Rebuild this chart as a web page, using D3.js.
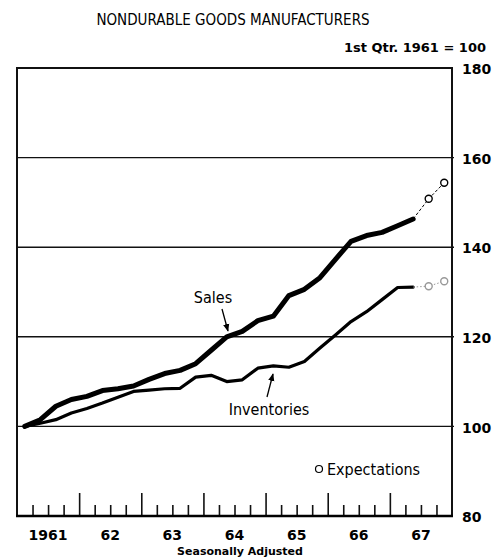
<!DOCTYPE html>
<html>
<head>
<meta charset="utf-8">
<script src="https://cdn.jsdelivr.net/npm/d3@7"></script>
<style>
  body { margin: 0; background: #fff; }
  svg { display: block; font-family: "Liberation Sans Narrow", "DejaVu Sans Condensed", "Liberation Sans", sans-serif; }
  .bold { font-family: "DejaVu Sans", "Liberation Sans", sans-serif; font-weight: bold; }
</style>
</head>
<body>
<svg width="499" height="558"></svg>
<script>
// quarterly data, 1st Qtr 1961 = 100
var years = ["1961", "62", "63", "64", "65", "66", "67"];
var yTicks = [80, 100, 120, 140, 160, 180];
var sales = [100, 101.5, 104.5, 106, 106.7, 108, 108.4, 109, 110.5, 111.8, 112.5, 114,
  117, 120, 121.2, 123.6, 124.6, 129.2, 130.6, 133.2, 137.3, 141.3, 142.6, 143.3, 144.8, 146.3];
var inventories = [100, 100.7, 101.5, 103, 104, 105.2, 106.5, 107.8, 108.1, 108.4, 108.5, 111,
  111.4, 110, 110.4, 113, 113.5, 113.2, 114.5, 117.5, 120.4, 123.4, 125.6, 128.3, 131, 131.1];
var salesExpect = [146.3, 150.8, 154.4];
var invExpect = [131.1, 131.3, 132.4];

var svg = d3.select("svg"),
  width = +svg.attr("width"),
  height = +svg.attr("height");

var plotLeft = 17, plotRight = 452, plotTop = 68, plotBottom = 516;

// x in years, quarter midpoints
var x = d3.scaleLinear().domain([1961, 1968]).range([plotLeft, plotRight]);
var y = d3.scaleLinear().domain([80, 180]).range([plotBottom, plotTop]);
var qx = function (i) { return x(1961 + 0.125 + i * 0.25); };

// 标题
svg.append("text")
  .attr("x", 233).attr("y", 25)
  .attr("text-anchor", "middle")
  .style("font-size", "15px")
  .text("NONDURABLE GOODS MANUFACTURERS");

svg.append("text")
  .attr("class", "bold")
  .attr("x", 486).attr("y", 52)
  .attr("text-anchor", "end")
  .style("font-size", "13px")
  .text("1st Qtr. 1961 = 100");

// gridlines
svg.append("g")
  .selectAll("line")
  .data([100, 120, 140, 160])
  .enter().append("line")
  .attr("x1", plotLeft).attr("x2", plotRight + 2)
  .attr("y1", d => y(d)).attr("y2", d => y(d))
  .attr("stroke", "#111").attr("stroke-width", 1.4);

// frame
svg.append("path")
  .attr("d", "M" + plotLeft + "," + plotBottom + "V" + plotTop + "H" + plotRight + "V" + plotBottom)
  .attr("fill", "none").attr("stroke", "#111").attr("stroke-width", 2);

// right axis labels
var yAxis = d3.axisRight(y).tickValues(yTicks).tickSize(0).tickPadding(10);
svg.append("g")
  .attr("transform", "translate(" + plotRight + ",0)")
  .call(yAxis)
  .call(g => g.select(".domain").remove())
  .selectAll("text")
  .attr("class", "bold")
  .style("font-size", "14px")
  .attr("dy", "0.4em");

// bottom axis quarter ticks
var xAxisQ = d3.axisTop(x)
  .tickValues(d3.range(1, 28).map(i => 1961 + i * 0.25).filter(d => d % 1 !== 0))
  .tickSize(11).tickFormat("");
svg.append("g")
  .attr("transform", "translate(0," + plotBottom + ")")
  .call(xAxisQ)
  .call(g => g.select(".domain").remove())
  .selectAll("line").attr("stroke", "#111").attr("stroke-width", 1.6);

var xAxisY = d3.axisTop(x)
  .tickValues(d3.range(1962, 1968))
  .tickSize(23).tickFormat("");
svg.append("g")
  .attr("transform", "translate(0," + plotBottom + ")")
  .call(xAxisY)
  .call(g => g.select(".domain").remove())
  .selectAll("line").attr("stroke", "#111").attr("stroke-width", 1.6);

// baseline at 80
svg.append("line")
  .attr("x1", plotLeft - 1).attr("x2", plotRight + 1)
  .attr("y1", y(80)).attr("y2", y(80))
  .attr("stroke", "#000").attr("stroke-width", 2.5);

// year labels
svg.append("g")
  .selectAll("text")
  .data(years)
  .enter().append("text")
  .attr("class", "bold")
  .attr("x", (d, i) => x(1961.5 + i))
  .attr("y", 540)
  .attr("text-anchor", "middle")
  .style("font-size", "14px")
  .text(d => d);

svg.append("text")
  .attr("class", "bold")
  .attr("x", 240).attr("y", 555)
  .attr("text-anchor", "middle")
  .style("font-size", "11px")
  .text("Seasonally Adjusted");

// lines
var line = d3.line()
  .x((d, i) => qx(i))
  .y(d => y(d));

svg.append("path")
  .datum(inventories)
  .attr("d", line)
  .attr("fill", "none").attr("stroke", "#000")
  .attr("stroke-width", 3.2).attr("stroke-linejoin", "round").attr("stroke-linecap", "round");

svg.append("path")
  .datum(sales)
  .attr("d", line)
  .attr("fill", "none").attr("stroke", "#000")
  .attr("stroke-width", 5).attr("stroke-linejoin", "round").attr("stroke-linecap", "round");

// expectations (last actual + two quarters)
var n = sales.length - 1;
var expLine = d3.line()
  .x((d, i) => qx(n + i))
  .y(d => y(d));

function drawExpect(vals, color, dash) {
  svg.append("path")
    .datum(vals)
    .attr("d", expLine)
    .attr("fill", "none").attr("stroke", color)
    .attr("stroke-width", 1).attr("stroke-dasharray", dash);
  svg.append("g")
    .selectAll("circle")
    .data(vals.slice(1))
    .enter().append("circle")
    .attr("cx", (d, i) => qx(n + i + 1))
    .attr("cy", d => y(d))
    .attr("r", 3.5)
    .attr("fill", "#fff").attr("stroke", color).attr("stroke-width", 1.4);
}
drawExpect(salesExpect, "#000", "3,2");
drawExpect(invExpect, "#999", "1.5,2");

// 标注
svg.append("defs").append("marker")
  .attr("id", "arrow")
  .attr("viewBox", "0 0 10 10")
  .attr("refX", 9).attr("refY", 5)
  .attr("markerWidth", 6).attr("markerHeight", 6)
  .attr("orient", "auto")
  .append("path").attr("d", "M0,1L10,5L0,9Z").attr("fill", "#000");

svg.append("text")
  .attr("x", 213).attr("y", 303)
  .attr("text-anchor", "middle")
  .style("font-size", "16px")
  .text("Sales");
svg.append("line")
  .attr("x1", 222).attr("y1", 309).attr("x2", 228).attr("y2", 331)
  .attr("stroke", "#000").attr("stroke-width", 1.3)
  .attr("marker-end", "url(#arrow)");

svg.append("text")
  .attr("x", 269).attr("y", 415)
  .attr("text-anchor", "middle")
  .style("font-size", "16px")
  .text("Inventories");
svg.append("line")
  .attr("x1", 267).attr("y1", 397).attr("x2", 273).attr("y2", 374)
  .attr("stroke", "#000").attr("stroke-width", 1.3)
  .attr("marker-end", "url(#arrow)");

// legend
svg.append("circle")
  .attr("cx", 319).attr("cy", 469).attr("r", 3.5)
  .attr("fill", "#fff").attr("stroke", "#000").attr("stroke-width", 1.2);
svg.append("text")
  .attr("x", 327).attr("y", 475)
  .style("font-size", "16px")
  .text("Expectations");
</script>
</body>
</html>
